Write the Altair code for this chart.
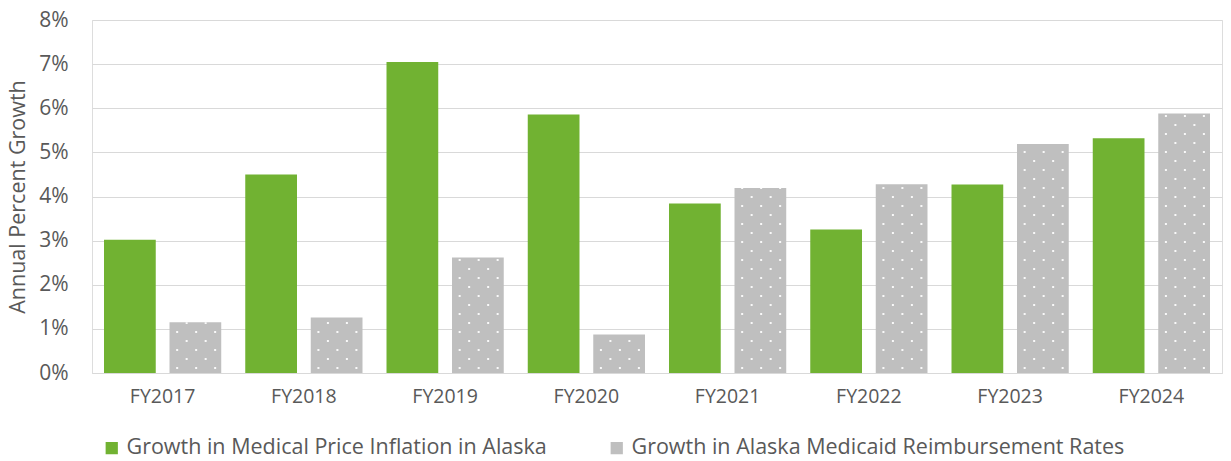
import altair as alt
import pandas as pd

# Fiscal years and annual growth (percent) for the two series
years = ["FY2017", "FY2018", "FY2019", "FY2020", "FY2021", "FY2022", "FY2023", "FY2024"]
price_inflation = [3.02, 4.50, 7.05, 5.86, 3.84, 3.25, 4.27, 5.32]
medicaid_rates = [1.15, 1.26, 2.62, 0.87, 4.19, 4.28, 5.19, 5.88]

series_names = [
    "Growth in Medical Price Inflation in Alaska",
    "Growth in Alaska Medicaid Reimbursement Rates",
]
colors = ["#71B232", "#BFBFBF"]
y_ticks = [0, 1, 2, 3, 4, 5, 6, 7, 8]

FONT = "Open Sans"
TEXT = "#595959"
GRID = "#D9D9D9"

bars = pd.DataFrame(
    {
        "year": years * 2,
        "series": [series_names[0]] * len(years) + [series_names[1]] * len(years),
        "value": price_inflation + medicaid_rates,
    }
)
medicaid = pd.DataFrame({"year": years, "value": medicaid_rates})

x_axis = alt.Axis(
    title=None,
    labelAngle=0,
    labelFont=FONT,
    labelFontSize=19.5,
    labelColor=TEXT,
    labelPadding=14,
    ticks=False,
    domain=True,
    domainColor=GRID,
    domainWidth=1.2,
    grid=False,
)
y_axis = alt.Axis(
    values=y_ticks,
    labelExpr="datum.value + '%'",
    title="Annual Percent Growth",
    titleFont=FONT,
    titleFontSize=21.5,
    titleFontWeight="normal",
    titleColor=TEXT,
    titlePadding=9,
    labelFont=FONT,
    labelFontSize=21,
    labelColor=TEXT,
    labelPadding=24,
    ticks=False,
    domain=False,
    grid=True,
    gridColor=GRID,
    gridWidth=1.2,
)
x_scale = alt.Scale(paddingInner=0.17, paddingOuter=0.085)
y_scale = alt.Scale(domain=[0, 8], nice=False)

bar_layer = (
    alt.Chart(bars)
    .mark_bar()
    .encode(
        x=alt.X("year:N", sort=years, scale=x_scale, axis=x_axis),
        xOffset=alt.XOffset(
            "series:N",
            sort=series_names,
            scale=alt.Scale(domain=series_names, paddingInner=0.21, paddingOuter=0),
        ),
        y=alt.Y("value:Q", scale=y_scale, axis=y_axis),
        color=alt.Color(
            "series:N",
            sort=series_names,
            scale=alt.Scale(domain=series_names, range=colors),
            legend=alt.Legend(
                title=None,
                orient="none",
                direction="horizontal",
                legendX=9,
                legendY=417,
                symbolType="square",
                symbolSize=150,
                symbolStrokeWidth=0,
                labelFont=FONT,
                labelFontSize=21.5,
                labelColor=TEXT,
                labelOffset=4,
                labelLimit=0,
                columnPadding=59,
            ),
        ),
    )
)

# Dot texture on the Medicaid bars: columns of short white dashes placed at
# fixed fractions across each year's band; alternate columns are staggered.
column_positions = [0.624, 0.705, 0.786, 0.867, 0.948]


def dot_column(band_pos, stagger):
    return (
        alt.Chart(medicaid)
        .transform_calculate(base="0")
        .mark_rule(
            color="white",
            opacity=0.9,
            strokeWidth=2,
            strokeDash=[2, 16],
            strokeDashOffset=-4 - 9 * stagger,
        )
        .encode(
            x=alt.X("year:N", sort=years, bandPosition=band_pos, scale=x_scale, axis=x_axis),
            y=alt.Y("base:Q", scale=y_scale, axis=y_axis),
            y2=alt.Y2("value"),
        )
    )


dot_layers = [dot_column(p, i % 2) for i, p in enumerate(column_positions)]

chart = (
    alt.layer(bar_layer, *dot_layers)
    .properties(
        width=1130,
        height=353,
        autosize=alt.AutoSizeParams(type="none"),
        padding={"left": 92, "top": 20, "right": 9, "bottom": 88},
    )
    .configure_view(stroke="transparent")
    .configure_axisY(domain=False)
    .configure_axisX(grid=False)
    .configure(background="white")
)

chart.save("out.html", embed_options={"renderer": "svg", "actions": False})
